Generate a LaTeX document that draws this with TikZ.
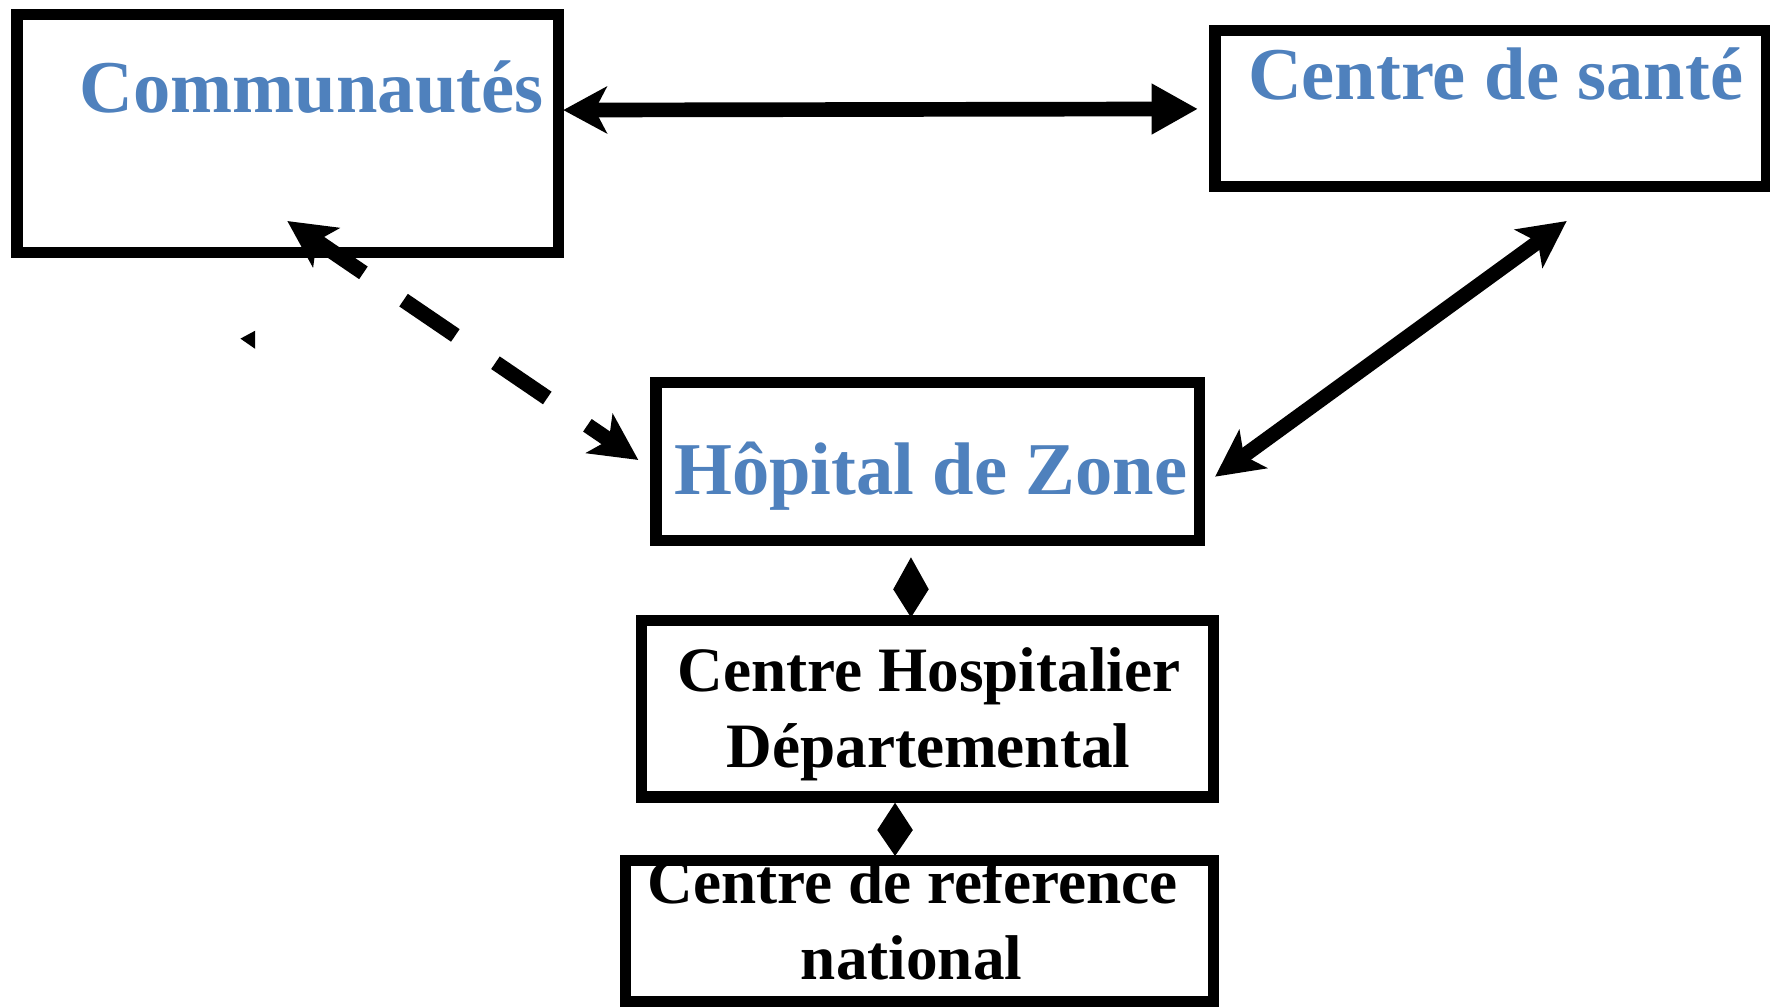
\documentclass[tikz,border=0pt]{standalone}
\usepackage{fontspec}
\setmainfont{Liberation Serif}
\usetikzlibrary{arrows.meta,calc}
\definecolor{boxblue}{RGB}{79,129,189}
\begin{document}
\begin{tikzpicture}[x=0.5pt,y=-0.5pt,
  box/.style={draw=black, line width=5pt, rectangle, inner sep=0pt},
  bluelbl/.style={font=\bfseries\fontsize{33pt}{40pt}\selectfont, text=boxblue, anchor=base, inner sep=0pt},
  blacklbl/.style={font=\bfseries\fontsize{28pt}{34pt}\selectfont, text=black, anchor=base, inner sep=0pt},
  link/.style={line width=6.5pt},
  dashlink/.style={line width=6.75pt, dash pattern=on 27.75pt off 21.5pt, dash phase=1.5pt},
  sharp/.tip={Stealth[length=20.75pt,width=20.75pt,inset=5pt]},
  knob/.tip={Triangle[length=13pt,width=15.5pt]}
]
\useasboundingbox (0,0) rectangle (1568,892);

% boxes
\node[box, minimum width=240pt, minimum height=105.5pt] (comm) at (255,118.5) {};
\node[box, minimum width=244.3pt, minimum height=69pt] (sante) at (1320.7,96) {};
\node[box, minimum width=240.75pt, minimum height=70pt] (hz) at (821.75,409) {};
\node[box, minimum width=253.5pt, minimum height=78pt] (chd) at (821.5,628) {};
\node[box, minimum width=260.5pt, minimum height=62.35pt] (crn) at (814.5,824.65) {};

% labels
\node[bluelbl] (tcomm) at (276,100) {Communautés};
\node[bluelbl] (tsante) at (1325,88) {Centre de santé};
\node[bluelbl] (thz) at (824.5,438) {Hôpital de Zone};
\node[blacklbl] (tchda) at (823,613) {Centre Hospitalier};
\node[blacklbl] (tchdb) at (822.5,680) {Départemental};
\node[blacklbl] (tcrna) at (808.5,800) {Centre de reference};
\node[blacklbl] (tcrnb) at (807.5,868) {national};

% connectors
\draw[link, {Stealth[length=19.25pt,width=20.6pt,inset=5.25pt]}-{Triangle[length=20.6pt,width=21.1pt]}]
  ($(comm.east)+(-1,-21)$) -- ($(sante.west)+(-10,0.5)$);
\draw[dashlink, sharp-sharp]
  ($(comm.south)+(-0.5,-33.2)$) -- ($(hz.west)+(-10.5,-1.5)$);
\draw[link, sharp-sharp]
  ($(sante.south)+(67.2,25.8)$) -- ($(hz.east)+(8.9,13.3)$);
\draw[line width=1pt, {Triangle[length=14.2pt,width=15.5pt]}-{Triangle[length=12.5pt,width=15.5pt]}]
  ($(hz.south)+(-14.75,9.7)$) -- ($(chd.north)+(-14.5,2)$);
\draw[line width=1pt, {Triangle[length=12.1pt,width=15.5pt]}-{Triangle[length=11.5pt,width=15.5pt]}]
  ($(chd.south)+(-28.6,0.1)$) -- ($(crn.north)+(-21.6,1)$);

% stray tick left of the dashed link
\fill (213,300) -- (226,293) -- (226,309) -- cycle;
\end{tikzpicture}
\end{document}
